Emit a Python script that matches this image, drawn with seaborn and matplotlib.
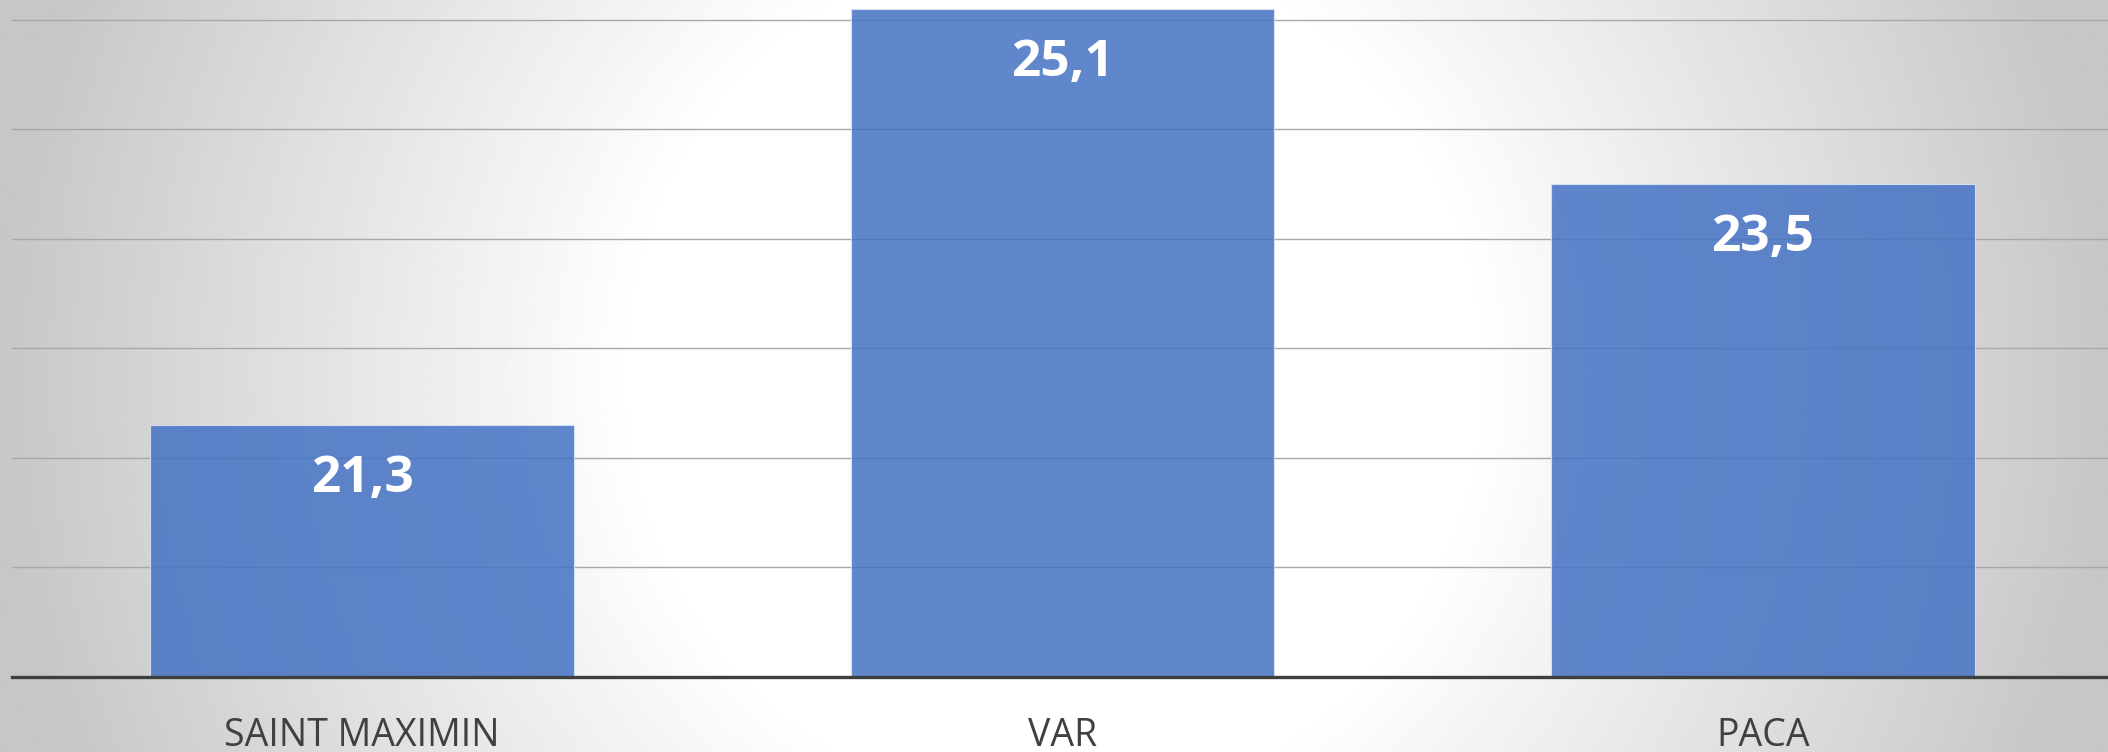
import numpy as np
import pandas as pd
import matplotlib
matplotlib.use("Agg")
import matplotlib.pyplot as plt
import seaborn as sns

# Data
categories = ["SAINT MAXIMIN", "VAR", "PACA"]
values = [21.3, 25.1, 23.5]
value_labels = ["21,3", "25,1", "23,5"]

df = pd.DataFrame({"zone": categories, "valeur": values})

sns.set_style("white")
plt.rcParams["font.family"] = ["Open Sans", "DejaVu Sans"]

fig = plt.figure(figsize=(21.08, 7.52), dpi=100)

# grey -> white -> grey background, like the Excel chart area
bg = fig.add_axes([0, 0, 1, 1], zorder=0)
yy, xx = np.mgrid[-1:1:300j, -1:1:800j]
r = np.sqrt(xx ** 2 + (yy * 0.35) ** 2)
shade = 1 - 0.22 * np.clip((r - 0.4) / 0.6, 0, 1)
bg.imshow(shade, cmap="gray", vmin=0, vmax=1, aspect="auto", extent=[0, 1, 0, 1])
bg.set_axis_off()

ax = fig.add_axes([12 / 2108, 75 / 752, 1 - 12 / 2108, 1 - 75 / 752], zorder=1)
ax.patch.set_alpha(0)

sns.barplot(data=df, x="zone", y="valeur", color="#4472C4", saturation=1,
            alpha=0.85, width=0.605, edgecolor="#dde6f5", linewidth=0.8,
            ax=ax, zorder=2)

ax.set_ylim(19, 25.18)
ax.set_xlim(-0.5, 2.493)
ax.set_yticks([20, 21, 22, 23, 24, 25])
ax.yaxis.grid(True, color="#a8a8a8", linewidth=1.0, zorder=1)
ax.set_axisbelow(True)
ax.tick_params(axis="y", left=False, labelleft=False)
ax.tick_params(axis="x", length=0, pad=29, labelsize=27, labelcolor="#404040")
ax.set_xlabel("")
ax.set_ylabel("")

for s in ["left", "right", "top"]:
    ax.spines[s].set_visible(False)
ax.spines["bottom"].set_color("#3f3f3f")
ax.spines["bottom"].set_linewidth(2.4)
ax.spines["bottom"].set_zorder(3)

for i, (v, lab) in enumerate(zip(values, value_labels)):
    ax.annotate(lab, (i, v), xytext=(0, -21), textcoords="offset points",
                ha="center", va="top", color="white", fontsize=37,
                fontweight="bold", zorder=4)

fig.savefig("out.png", dpi=100)
